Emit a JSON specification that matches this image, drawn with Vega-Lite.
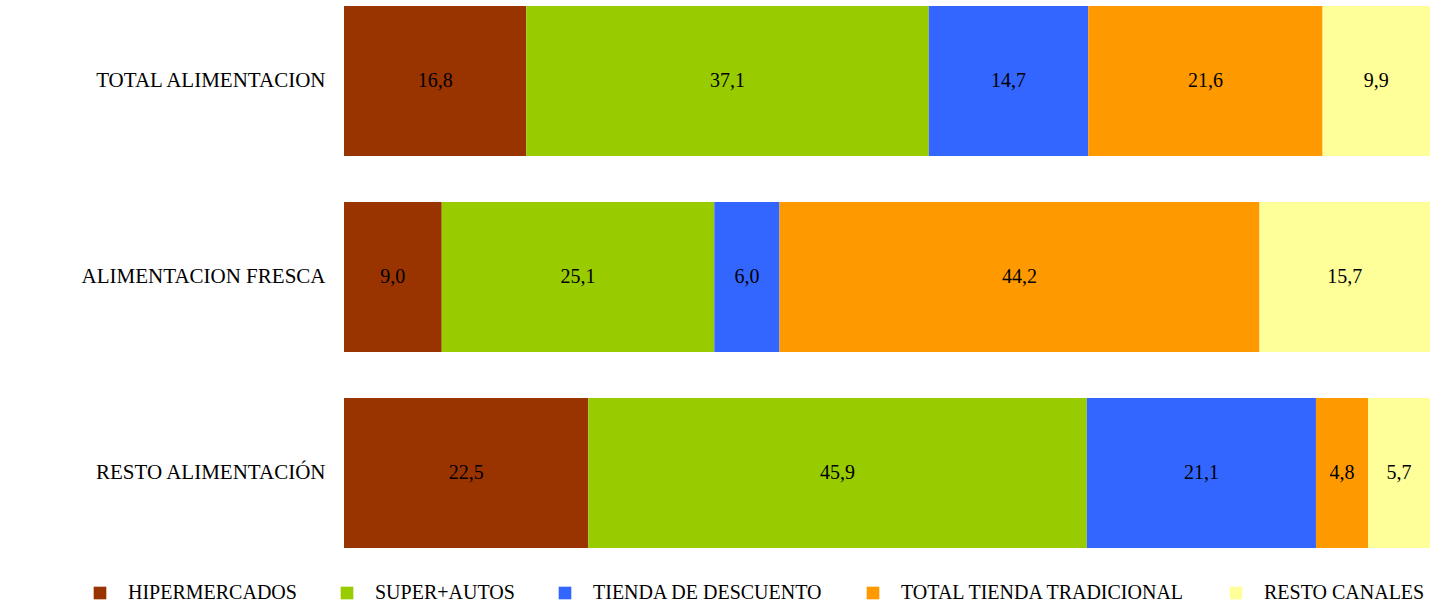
{
  "$schema": "https://vega.github.io/schema/vega-lite/v6.json",
  "width": 1086,
  "height": 554,
  "autosize": {"type": "none"},
  "padding": {"left": 344, "top": 0, "right": 15, "bottom": 51},
  "background": "white",
  "config": {
    "view": {"stroke": null},
    "font": "Liberation Serif",
    "locale": {"number": {"decimal": ",", "thousands": ".", "grouping": [3], "currency": ["", " €"]}}
  },
  "data": {
    "values": [
      {"grupo": "TOTAL ALIMENTACION", "canal": "HIPERMERCADOS", "orden": 1, "valor": 16.8},
      {"grupo": "TOTAL ALIMENTACION", "canal": "SUPER+AUTOS", "orden": 2, "valor": 37.1},
      {"grupo": "TOTAL ALIMENTACION", "canal": "TIENDA DE DESCUENTO", "orden": 3, "valor": 14.7},
      {"grupo": "TOTAL ALIMENTACION", "canal": "TOTAL TIENDA TRADICIONAL", "orden": 4, "valor": 21.6},
      {"grupo": "TOTAL ALIMENTACION", "canal": "RESTO CANALES", "orden": 5, "valor": 9.9},
      {"grupo": "ALIMENTACION FRESCA", "canal": "HIPERMERCADOS", "orden": 1, "valor": 9.0},
      {"grupo": "ALIMENTACION FRESCA", "canal": "SUPER+AUTOS", "orden": 2, "valor": 25.1},
      {"grupo": "ALIMENTACION FRESCA", "canal": "TIENDA DE DESCUENTO", "orden": 3, "valor": 6.0},
      {"grupo": "ALIMENTACION FRESCA", "canal": "TOTAL TIENDA TRADICIONAL", "orden": 4, "valor": 44.2},
      {"grupo": "ALIMENTACION FRESCA", "canal": "RESTO CANALES", "orden": 5, "valor": 15.7},
      {"grupo": "RESTO ALIMENTACIÓN", "canal": "HIPERMERCADOS", "orden": 1, "valor": 22.5},
      {"grupo": "RESTO ALIMENTACIÓN", "canal": "SUPER+AUTOS", "orden": 2, "valor": 45.9},
      {"grupo": "RESTO ALIMENTACIÓN", "canal": "TIENDA DE DESCUENTO", "orden": 3, "valor": 21.1},
      {"grupo": "RESTO ALIMENTACIÓN", "canal": "TOTAL TIENDA TRADICIONAL", "orden": 4, "valor": 4.8},
      {"grupo": "RESTO ALIMENTACIÓN", "canal": "RESTO CANALES", "orden": 5, "valor": 5.7}
    ]
  },
  "encoding": {
    "y": {
      "field": "grupo", "type": "nominal",
      "sort": ["TOTAL ALIMENTACION", "ALIMENTACION FRESCA", "RESTO ALIMENTACIÓN"],
      "scale": {"paddingInner": 0.235, "paddingOuter": 0.03},
      "axis": {"title": null, "domain": false, "ticks": false, "labelPadding": 19, "labelFontSize": 21, "labelColor": "#000000", "labelFont": "Liberation Serif", "labelLimit": 400}
    },
    "x": {
      "field": "valor", "type": "quantitative", "stack": "normalize",
      "axis": null
    },
    "order": {"field": "orden", "type": "quantitative", "sort": "ascending"}
  },
  "layer": [
    {
      "mark": {"type": "bar"},
      "encoding": {
        "color": {
          "field": "canal", "type": "nominal",
          "sort": ["HIPERMERCADOS", "SUPER+AUTOS", "TIENDA DE DESCUENTO", "TOTAL TIENDA TRADICIONAL", "RESTO CANALES"],
          "scale": {
            "domain": ["HIPERMERCADOS", "SUPER+AUTOS", "TIENDA DE DESCUENTO", "TOTAL TIENDA TRADICIONAL", "RESTO CANALES"],
            "range": ["#993300", "#99CC00", "#3366FF", "#FF9900", "#FFFF99"]
          },
          "legend": {
            "title": null, "orient": "none", "direction": "horizontal",
            "legendX": -254, "legendY": 583,
            "symbolType": "square", "symbolSize": 160, "symbolStrokeWidth": 0,
            "labelFontSize": 20, "labelFont": "Liberation Serif", "labelColor": "#000000",
            "labelOffset": 18, "columnPadding": 40, "labelLimit": 400
          }
        }
      }
    },
    {
      "mark": {"type": "text", "fontSize": 20, "color": "#000000", "font": "Liberation Serif"},
      "encoding": {
        "x": {"field": "valor", "type": "quantitative", "stack": "normalize", "bandPosition": 0.5},
        "detail": {"field": "canal"},
        "text": {"field": "valor", "type": "quantitative", "format": ".1f"}
      }
    }
  ]
}
